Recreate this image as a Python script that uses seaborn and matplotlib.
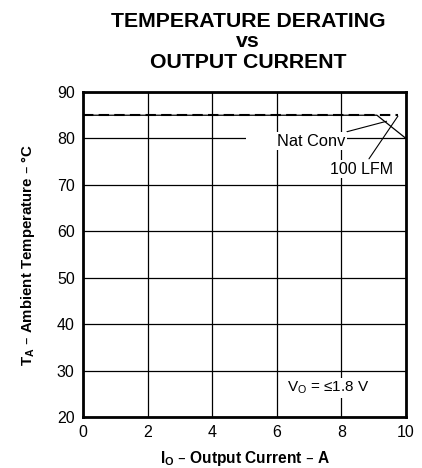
import matplotlib
matplotlib.use("Agg")
import matplotlib.pyplot as plt
from matplotlib.patches import Rectangle
import seaborn as sns
import pandas as pd

# data
current_nat = [0, 9.1, 10]
temp_nat = [85, 85, 80]
current_lfm = [0, 9.75]
temp_lfm = [85, 85]
x_ticks = [0, 2, 4, 6, 8, 10]
y_ticks = [20, 30, 40, 50, 60, 70, 80, 90]

sns.set_style("white")
plt.rcParams['font.family'] = ['Liberation Sans', 'DejaVu Sans']
plt.rcParams['mathtext.default'] = 'regular'
plt.rcParams['text.color'] = 'black'
plt.rcParams['axes.labelcolor'] = 'black'

nat = pd.DataFrame({"I": current_nat, "T": temp_nat})
lfm = pd.DataFrame({"I": current_lfm, "T": temp_lfm})

fig = plt.figure(figsize=(4.22, 4.68), dpi=100)
ax = fig.add_axes([0.1967, 0.109, 0.7653, 0.6944])

# grid first
ax.set_xlim(0, 10)
ax.set_ylim(20, 90)
ax.set_xticks(x_ticks)
ax.set_yticks(y_ticks)
ax.grid(True, color="black", linewidth=0.9, zorder=1)
ax.set_axisbelow(True)

# the grid line at 80 has a gap before the label
ax.add_patch(Rectangle((5.06, 79.0), 1.0, 1.6, fc="white", ec="none", zorder=2))

# curves
sns.lineplot(data=nat, x="I", y="T", sort=False, color="black", linewidth=0.9, ax=ax, zorder=3)
sns.lineplot(data=lfm, x="I", y="T", sort=False, color="black", linewidth=1.5, ax=ax, zorder=4,
             linestyle=(0, (5, 2.5)))

# labels with white background covering the grid
ax.annotate("Nat Conv", xy=(9.4, 83.7), xytext=(6.0, 79.4), fontsize=11.8,
            va="center", ha="left",
            bbox=dict(boxstyle="square,pad=0.1", fc="white", ec="none"),
            arrowprops=dict(arrowstyle="-", color="black", lw=0.8, shrinkA=1, shrinkB=0),
            zorder=5)
ax.annotate("100 LFM", xy=(9.75, 84.8), xytext=(8.64, 73.4), fontsize=11.5,
            va="center", ha="center",
            bbox=dict(boxstyle="square,pad=0.1", fc="white", ec="none"),
            arrowprops=dict(arrowstyle="-", color="black", lw=0.8, shrinkA=1, shrinkB=0),
            zorder=5)
ax.text(7.6, 26.2, "V$_O$ = ≤1.8 V", fontsize=11, ha="center", va="center",
        bbox=dict(boxstyle="square,pad=0.1", fc="white", ec="none"), zorder=5)

for s in ax.spines.values():
    s.set_visible(True)
    s.set_color("black")
    s.set_linewidth(2)

ax.tick_params(length=0, labelsize=11.5, pad=6, colors="black")
ax.set_xlabel("I$_O$ – Output Current – A", fontsize=11.2, fontweight="bold", labelpad=6)
ax.set_ylabel("T$_A$ – Ambient Temperature – °C", fontsize=10.8, fontweight="bold", labelpad=14)

fig.text(0.5874, 0.975, "TEMPERATURE DERATING\nvs\nOUTPUT CURRENT", ha="center", va="top",
         fontsize=15.3, fontweight="bold", linespacing=1.1, color="black")

fig.savefig("out.png", dpi=100)
